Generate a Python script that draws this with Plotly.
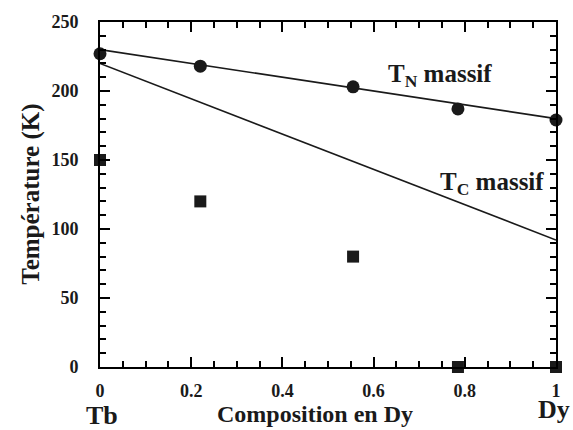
import plotly.graph_objects as go

# Data
tn_x = [0, 0.22, 0.555, 0.785, 1.0]
tn_y = [227, 218, 203, 187, 179]
film_x = [0, 0.22, 0.555, 0.785, 1.0]
film_y = [150, 120, 80, 0, 0]
tn_bulk_x = [0, 1]
tn_bulk_y = [230, 180]
tc_bulk_x = [0, 1]
tc_bulk_y = [220, 92]

FONT = "Liberation Serif"
INK = "#1a1a1a"
X_RANGE = [0, 1]
Y_RANGE = [0, 250]

fig = go.Figure()
fig.add_trace(go.Scatter(x=tn_bulk_x, y=tn_bulk_y, mode="lines",
                         line=dict(color=INK, width=1.6)))
fig.add_trace(go.Scatter(x=tc_bulk_x, y=tc_bulk_y, mode="lines", xaxis="x2", yaxis="y2",
                         line=dict(color=INK, width=1.6)))
fig.add_trace(go.Scatter(x=tn_x, y=tn_y, mode="markers", xaxis="x3", yaxis="y3",
                         marker=dict(symbol="circle", size=13, color=INK),
                         cliponaxis=False))
fig.add_trace(go.Scatter(x=film_x, y=film_y, mode="markers", xaxis="x3", yaxis="y3",
                         marker=dict(symbol="square", size=12, color=INK),
                         cliponaxis=False))

major = dict(showline=True, linecolor="black", linewidth=2, showgrid=False, zeroline=False,
             mirror="ticks", ticks="inside", ticklen=10, tickwidth=2, tickcolor="black",
             tickfont=dict(family=FONT, size=18, color=INK, weight="bold"))
minor = dict(showline=True, linecolor="black", linewidth=2, showgrid=False, zeroline=False,
             mirror="ticks", ticks="inside", ticklen=6, tickwidth=1.5, tickcolor="black",
             showticklabels=False)

fig.update_layout(
    xaxis=dict(range=X_RANGE, dtick=0.2, tickformat="~g", ticklabelstandoff=6, **major),
    yaxis=dict(range=Y_RANGE, dtick=50, ticklabelstandoff=16, **major),
    xaxis2=dict(range=X_RANGE, dtick=0.05, overlaying="x", anchor="y2", **minor),
    yaxis2=dict(range=Y_RANGE, dtick=10, overlaying="y", anchor="x2", **minor),
    xaxis3=dict(range=X_RANGE, overlaying="x", anchor="y3", visible=False),
    yaxis3=dict(range=Y_RANGE, overlaying="y", anchor="x3", visible=False),
)

def ann(text, x, y, size, xref="paper", yref="paper", **kw):
    fig.add_annotation(x=x, y=y, xref=xref, yref=yref, text=text, showarrow=False,
                       font=dict(family=FONT, size=size, color=INK),
                       xanchor="center", yanchor="middle", **kw)

ann("<b>Température (K)</b>", -0.153, 0.5, 25, textangle=-90)
ann("<b>Composition en Dy</b>", 0.472, -0.137, 24)
ann("<b>Tb</b>", 0.005, -0.142, 26)
ann("<b>Dy</b>", 0.9956, -0.124, 26)
ann("<b>T<sub>N</sub> massif</b>", 0.745, 211, 25, xref="x", yref="y")
ann("<b>T<sub>C</sub> massif</b>", 0.86, 133, 25, xref="x", yref="y")

fig.update_layout(
    width=573, height=430,
    margin=dict(l=100, r=15, t=21, b=63),
    plot_bgcolor="white", paper_bgcolor="white",
    showlegend=False,
)

fig.write_html("out.html", config={"displayModeBar": False},
               post_script="document.body.style.margin='0px';")
